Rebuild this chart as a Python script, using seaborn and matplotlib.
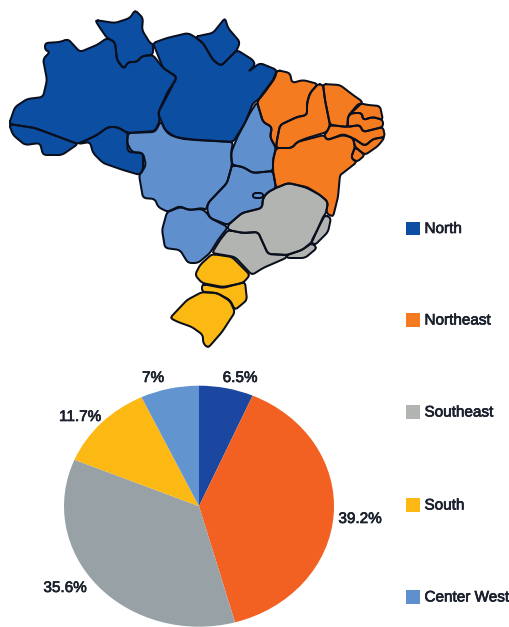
import matplotlib
matplotlib.use("Agg")
import matplotlib.pyplot as plt
import matplotlib.patheffects as pe
from matplotlib.patches import Rectangle
import numpy as np
import seaborn as sns

sns.set_theme(style="white")
plt.rcParams['font.family'] = ['Liberation Sans', 'DejaVu Sans']

# Data
regions = ["North", "Northeast", "Southeast", "South", "Center West"]
shares = [6.5, 39.2, 35.6, 11.7, 7.0]
share_labels = ["6.5%", "39.2%", "35.6%", "11.7%", "7%"]
map_colors = sns.color_palette(["#0B4EA2", "#F47B20", "#B1B4B1", "#FDB913", "#5F8FCC"])
pie_colors = sns.color_palette(["#1C47A0", "#F26122", "#98A2A6", "#FDB913", "#6295D0"])

# Map outlines (reference pixel coordinates), by state and region
north_states = [
    [(9,124),(15,107),(27,99),(43,97),(47,80),(43,59),(50,52),(45,50),(45,43),(60,42),(68,39),(80,52),(97,45),(107,38),(115,42),(117,60),(124,69),(128,62),(137,62),(142,56),(153,55),(163,68),(177,77),(167,93),(158,113),(160,120),(155,131),(128,133),(117,127),(108,127),(97,135),(78,144),(35,128)],
    [(9,124),(35,128),(78,144),(62,155),(43,155),(40,143),(25,145),(13,135)],
    [(78,144),(97,135),(108,127),(117,127),(128,133),(127,143),(132,152),(143,153),(146,165),(140,175),(123,170),(103,163),(93,153),(90,142)],
    [(95,20),(115,23),(130,18),(135,10),(143,18),(142,30),(150,43),(153,44),(153,55),(142,56),(137,62),(128,62),(124,69),(117,60),(115,42),(107,38),(100,28)],
    [(153,43),(167,38),(188,33),(195,37),(203,43),(213,60),(221,66),(237,50),(253,60),(255,65),(248,72),(260,63),(277,70),(273,80),(258,100),(253,103),(245,123),(233,142),(195,140),(175,137),(165,130),(158,113),(165,100),(177,77),(163,68)],
    [(195,37),(203,35),(213,33),(225,18),(228,28),(240,42),(237,50),(221,66),(213,60),(203,43)],
]
center_west_states = [
    [(257,102),(263,122),(272,127),(270,137),(276,148),(273,160),(273,171),(253,173),(243,167),(232,165),(231,153),(237,138),(250,113)],
    [(232,165),(243,167),(253,173),(273,171),(276,188),(268,192),(263,198),(262,208),(242,213),(228,225),(210,218),(207,210),(208,203),(227,183)],
    [(128,133),(155,132),(161,121),(165,130),(170,135),(183,139),(233,142),(231,153),(232,165),(227,183),(208,203),(206,210),(202,208),(190,210),(180,207),(168,212),(158,207),(155,199),(143,198),(139,175),(143,170),(143,153),(128,152),(127,143)],
    [(167,212),(180,206),(188,210),(202,209),(207,213),(210,218),(228,227),(218,240),(210,253),(198,263),(188,263),(180,250),(165,248),(162,230)],
    [(253,193),(263,193),(263,198),(253,198)],
]
northeast_states = [
    [(277,70),(290,73),(292,83),(303,80),(318,84),(310,93),(307,103),(307,115),(297,117),(280,125),(277,140),(276,148),(270,137),(272,127),(263,122),(257,102),(265,92),(275,78)],
    [(318,84),(323,85),(325,100),(330,125),(327,132),(307,138),(297,142),(292,148),(276,148),(277,140),(280,125),(297,117),(307,115),(307,103),(310,93)],
    [(323,84),(340,85),(353,95),(363,102),(348,116),(348,127),(330,125),(325,100)],
    [(359,103),(368,105),(380,106),(383,120),(373,117),(363,120),(362,113),(352,113),(348,116)],
    [(348,116),(352,113),(362,113),(363,120),(373,117),(383,120),(383,127),(363,132),(360,125),(347,127)],
    [(330,125),(347,127),(360,125),(363,132),(383,127),(385,137),(373,139),(365,146),(353,138),(343,134),(333,138),(327,140),(324,135),(327,132)],
    [(353,138),(365,146),(373,139),(385,137),(378,146),(365,155),(355,147)],
    [(355,147),(365,155),(357,162),(351,158)],
    [(276,148),(292,148),(297,142),(324,135),(327,140),(343,135),(353,138),(355,147),(351,158),(357,162),(343,173),(340,175),(338,197),(333,217),(326,213),(328,202),(320,195),(307,187),(297,185),(288,183),(276,188),(273,171),(273,160)],
]
southeast_states = [
    [(228,225),(242,213),(262,208),(263,198),(268,192),(276,188),(288,183),(297,185),(307,188),(320,195),(328,202),(326,213),(323,217),(312,242),(302,250),(287,255),(268,254),(263,243),(258,232),(243,233),(228,230)],
    [(325,215),(331,218),(328,232),(315,245),(311,242)],
    [(312,243),(317,248),(305,258),(287,258),(287,255),(302,250)],
    [(228,230),(243,233),(258,232),(263,243),(268,254),(287,255),(286,258),(263,268),(252,275),(235,257),(212,253),(220,240)],
]
south_states = [
    [(212,254),(232,257),(250,275),(243,283),(223,287),(202,283),(195,275),(200,265)],
    [(202,284),(223,288),(245,282),(247,300),(235,310),(230,300),(217,293),(202,292)],
    [(202,292),(217,293),(230,301),(235,312),(222,332),(208,348),(203,343),(203,335),(192,327),(178,322),(170,318),(187,300)],
]
map_states = [north_states, northeast_states, southeast_states, south_states, center_west_states]


def rounded(poly, rounds=2, cap=2.0):
    """Round a state's corners by cutting each one, up to cap pixels along each side."""
    pts = np.asarray(poly, dtype=float)
    for _ in range(rounds):
        out = []
        for a, b in zip(pts, np.roll(pts, -1, axis=0)):
            d = b - a
            n = np.hypot(*d)
            c = min(0.25, cap / n) if n else 0.0
            out.extend([a + c * d, b - c * d])
        pts = np.array(out)
        cap *= 0.5
    return pts


# Layout (pixels)
W, H = 509, 627
fig = plt.figure(figsize=(W / 100, H / 100), dpi=100, facecolor="white")
canvas = fig.add_axes([0, 0, 1, 1])
canvas.set_xlim(0, W)
canvas.set_ylim(H, 0)
canvas.axis("off")

line = "#0A0F1E"
for states, color in zip(map_states, map_colors):
    for poly in states:
        xs, ys = zip(*poly)
        canvas.fill(xs, ys, facecolor=line, edgecolor="none", zorder=2)
for states, color in zip(map_states, map_colors):
    for poly in states:
        pts = rounded(poly)
        canvas.fill(pts[:, 0], pts[:, 1], facecolor=color, edgecolor="none", zorder=3)
        canvas.plot(np.r_[pts[:, 0], pts[0, 0]], np.r_[pts[:, 1], pts[0, 1]], color=line, lw=1.45,
                    solid_joinstyle="round", zorder=4)

# Pie: an ellipse in the reference, hence auto aspect
pie_left, pie_right, pie_top, pie_bottom = 64, 334, 385.7, 626.7
pie_ax = fig.add_axes([pie_left / W, 1 - pie_bottom / H, (pie_right - pie_left) / W, (pie_bottom - pie_top) / H])
pie_ax.pie(shares, colors=pie_colors, startangle=90, counterclock=False, radius=1, wedgeprops={"linewidth": 0})
pie_ax.set_aspect("auto")
pie_ax.set_xlim(-1, 1)
pie_ax.set_ylim(-1, 1)
pie_ax.axis("off")

ink = "#1A202C"
stroke = [pe.withStroke(linewidth=0.5, foreground=ink)]
label_pos = [(240, 378), (360, 519), (65, 588), (80, 417), (153, 378)]
for text, (x, y) in zip(share_labels, label_pos):
    canvas.text(x, y, text, fontsize=11, color=ink, ha="center", va="center", path_effects=stroke, zorder=5)

legend_y = [228.5, 320, 412, 505, 597]
for name, color, y in zip(regions, map_colors, legend_y):
    canvas.add_patch(Rectangle((406, y - 6.8), 14.5, 13.5, facecolor=color, edgecolor="none"))
    canvas.text(424.5, y + 0.5, name, fontsize=11, color=ink, ha="left", va="center", path_effects=stroke)

fig.savefig("out.png", dpi=100)
